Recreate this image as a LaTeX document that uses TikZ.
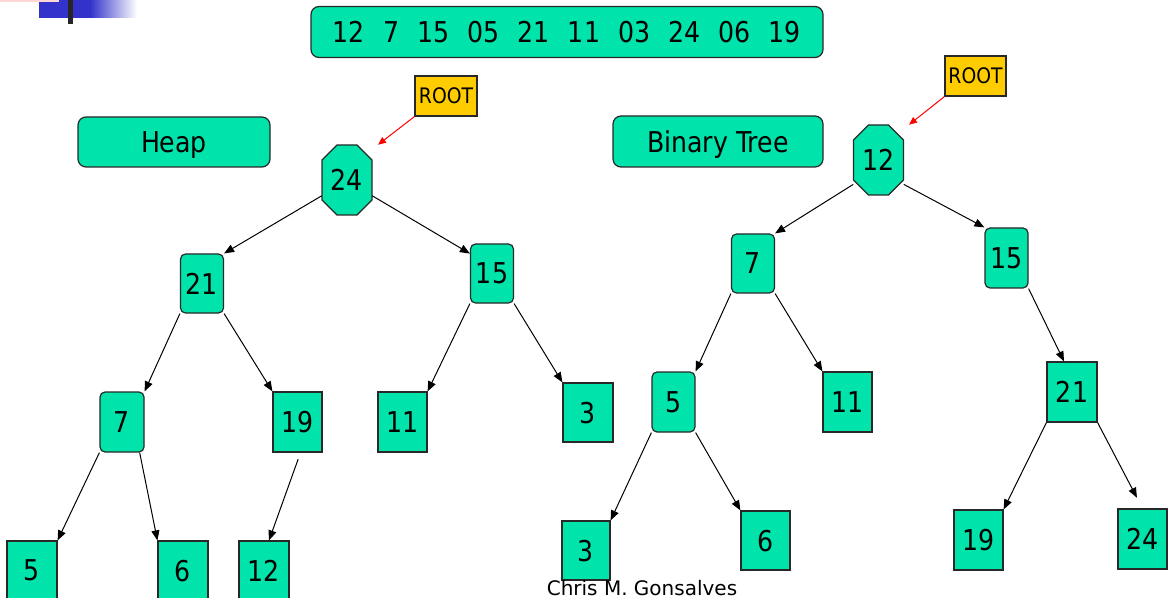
\documentclass[tikz,border=0pt]{standalone}
\usepackage{fontspec}
\setmainfont{DejaVu Sans}[FakeStretch=0.88]
\newfontfamily\creditfont{DejaVu Sans}
\usetikzlibrary{arrows.meta,calc}

% one drawing unit = one screen pixel
\newlength\pxl
\setlength\pxl{0.75pt}

\definecolor{mint}{RGB}{0,227,170}
\definecolor{edgegray}{RGB}{40,40,40}
\definecolor{rootyellow}{RGB}{255,204,0}
\definecolor{logoblue}{RGB}{51,51,204}
\definecolor{logopink}{RGB}{255,214,214}

\tikzset{
  base/.style={fill=mint, draw=edgegray, line width=0.9pt, inner sep=0pt, text depth=0pt,
    font=\fontsize{21.5}{24}\selectfont},
  sq/.style={base, rectangle, minimum width=49\pxl, minimum height=59\pxl},
  rnd/.style={base, rectangle, rounded corners=5\pxl, minimum width=43\pxl, minimum height=59\pxl},
  titlebox/.style={base, rectangle, rounded corners=8\pxl, minimum height=51\pxl},
  octa/.style={fill=mint, draw=edgegray, line width=0.9pt},
  octtext/.style={rectangle, inner sep=0pt, text depth=0pt, minimum width=50\pxl, minimum height=70\pxl,
    font=\fontsize{21.5}{24}\selectfont},
  rootbox/.style={rectangle, fill=rootyellow, draw=edgegray, line width=0.9pt, inner sep=0pt,
    text depth=0pt, minimum width=62\pxl, minimum height=40\pxl, font=\fontsize{16}{18}\selectfont},
  credit/.style={inner sep=0pt, font=\creditfont\fontsize{15}{17}\selectfont},
  link/.style={-{Triangle[length=7.5pt,width=6pt]}, line width=0.75pt},
  rootlink/.style={red, -{Triangle[length=6pt,width=5pt]}, line width=0.75pt},
}

% octagonal node: outline first, then the named text node on top
\newcommand\octnode[4]{%
  \path[octa] (#2,#3) ++(-10,-35) -- ++(20,0) -- ++(15,15) -- ++(0,40)
    -- ++(-15,15) -- ++(-20,0) -- ++(-15,-15) -- ++(0,-40) -- cycle;
  \node[octtext] (#1) at (#2,#3) {#4};}

\newcommand\gap{\hspace{13.6pt}}

\begin{document}
\begin{tikzpicture}[x=0.75pt, y=-0.75pt]
\useasboundingbox (0,0) rectangle (1169,598);
\clip (0,0) rectangle (1169,598);

% corner mark
\fill[logoblue] (39,0) rectangle (90,18);
\shade[left color=logoblue, right color=white] (90,0) rectangle (137,18);
\fill[logopink] (0,0) rectangle (59,2);
\fill[black!85] (68,0) rectangle (73,24);

% input sequence and captions
\node[titlebox, minimum width=512\pxl] (list) at (567,32)
  {12\gap 7\gap 15\gap 05\gap 21\gap 11\gap 03\gap 24\gap 06\gap 19};
\node[titlebox, minimum width=192\pxl, minimum height=50\pxl] (heap) at (174,142) {Heap};
\node[titlebox, minimum width=210\pxl] (bt) at (718,141.5) {Binary Tree};

% heap
\octnode{h24}{347}{180}{24}
\node[rnd] (h21) at (202,283.5) {21};
\node[rnd] (h15) at (492,273.5) {15};
\node[rnd, minimum width=44\pxl, minimum height=60\pxl] (h7) at (122,422) {7};
\node[sq, minimum height=60\pxl] (h19) at (297.5,422) {19};
\node[sq, minimum height=60\pxl] (h11) at (402.5,422) {11};
\node[sq, minimum width=50\pxl] (h3) at (588,412.5) {3};
\node[sq, minimum width=50\pxl] (h5) at (32,570.5) {5};
\node[sq, minimum width=50\pxl] (h6) at (183,570.5) {6};
\node[sq, minimum width=50\pxl] (h12) at (264,570.5) {12};

% binary search tree
\octnode{b12}{878.5}{160}{12}
\node[rnd] (b7) at (753,263.5) {7};
\node[rnd, minimum height=60\pxl] (b15) at (1006.5,258) {15};
\node[rnd, minimum height=60\pxl] (b5) at (673.5,402) {5};
\node[sq, minimum height=60\pxl] (b11) at (847.5,402) {11};
\node[sq, minimum width=50\pxl, minimum height=60\pxl] (b21) at (1072,392) {21};
\node[sq, minimum width=48\pxl] (b3) at (586,550.5) {3};
\node[sq] (b6) at (765.5,540.5) {6};
\node[sq, minimum height=60\pxl] (b19) at (978.5,540) {19};
\node[sq, minimum height=60\pxl] (b24) at (1142.5,539) {24};

% root markers
\node[rootbox] (rootL) at (446,96) {ROOT};
\node[rootbox, minimum width=61\pxl] (rootR) at (975.5,76) {ROOT};

\node[credit, anchor=base] (author) at (642,595) {Chris M. Gonsalves};

% heap links
\draw[link] (h24.212) -- (h21.north east);
\draw[link] (h24.328) -- (h15.138);
\draw[link] (h21.south west) -- (h7.north east);
\draw[link] (h21.south east) -- (h19.north west);
\draw[link] (h15.south west) -- (h11.north east);
\draw[link] (h15.south east) -- (h3.north west);
\draw[link] (h7.south west) -- (h5.north east);
\draw[link] (h7.300) -- (h6.north west);
\draw[link, shorten <=7\pxl] ([xshift=3\pxl]h19.south) -- ([xshift=5\pxl]h12.north);

% tree links
\draw[link] (b12.224) -- (b7.north east);
\draw[link] (b12.316) -- (b15.north west);
\draw[link] (b7.south west) -- (b5.north east);
\draw[link] (b7.south east) -- (b11.north west);
\draw[link] (b15.south east) -- ([xshift=-8\pxl]b21.north);
\draw[link] (b5.south west) -- (b3.north east);
\draw[link] (b5.south east) -- (b6.north west);
\draw[link] (b21.south west) -- (b19.north east);
\draw[link, shorten >=12\pxl] (b21.south east) -- (b24.north);

% root pointers
\draw[rootlink] (rootL.south west) -- ($(h24.north)+(31,0)$);
\draw[rootlink] (rootR.south west) -- ($(b12.north)+(30.5,0)$);
\end{tikzpicture}
\end{document}
